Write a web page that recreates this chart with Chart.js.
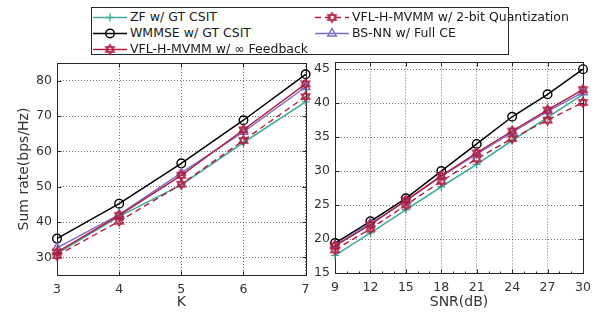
<!DOCTYPE html>
<html>
<head>
<meta charset="utf-8">
<script src="https://cdn.jsdelivr.net/npm/chart.js@4.4.1/dist/chart.umd.min.js"></script>
<style>
  html, body { margin:0; padding:0; background:#fff; }
  body { width:596px; height:314px; position:relative; overflow:hidden; font-family:'DejaVu Sans', sans-serif; }
  canvas { position:absolute; }
  #legend { position:absolute; left:91px; top:7px; width:418px; height:48px; box-sizing:border-box; border:1px solid #262626; background:#fff; }
  .lt { position:absolute; font-size:12.5px; color:#1a1a1a; white-space:nowrap; line-height:16px; }
</style>
</head>
<body>
<canvas id="cK" width="312" height="258" style="left:0;top:56px"></canvas>
<canvas id="cS" width="286" height="258" style="left:310px;top:56px"></canvas>
<div id="legend"></div>
<script>
// ---------- data ----------
const seriesNames = ['ZF w/ GT CSIT', 'VFL-H-MVMM w/ 2-bit Quantization', 'WMMSE w/ GT CSIT', 'BS-NN w/ Full CE', 'VFL-H-MVMM w/ \u221E Feedback'];

const kValues = [3, 4, 5, 6, 7];
const zfK     = [31.1, 41.6, 50.5, 62.5, 74.0];
const vfl2K   = [30.5, 40.2, 50.7, 63.1, 75.5];
const wmmseK  = [35.3, 45.2, 56.6, 68.8, 81.8];
const bsnnK   = [32.7, 42.1, 53.9, 65.5, 78.2];
const vflK    = [31.5, 41.9, 53.2, 66.1, 79.1];
const kYTicks = [30, 40, 50, 60, 70, 80];

const snrValues = [9, 12, 15, 18, 21, 24, 27, 30];
const zfS     = [17.6, 20.9, 24.3, 27.7, 31.0, 34.5, 37.9, 41.3];
const vfl2S   = [18.4, 21.5, 25.0, 28.5, 31.8, 34.8, 37.5, 40.1];
const wmmseS  = [19.4, 22.6, 26.0, 30.0, 34.0, 38.0, 41.3, 45.0];
const bsnnS   = [19.1, 22.3, 25.6, 29.2, 32.5, 35.7, 38.8, 41.6];
const vflS    = [19.0, 22.1, 25.7, 29.3, 32.7, 35.9, 39.0, 42.0];
const sYTicks = [15, 20, 25, 30, 35, 40, 45];

// ---------- styles ----------
const TEAL = '#44aa99', BLACK = '#000000', RED = '#b01e40', PURPLE = '#7d6bc8';

function hexagram(color) {
  const c = document.createElement('canvas');
  c.width = 13; c.height = 13;
  const g = c.getContext('2d');
  g.strokeStyle = color; g.lineWidth = 1.3;
  const cx = 6.5, cy = 6.5, r = 5;
  for (let k = 0; k < 2; k++) {
    g.beginPath();
    for (let i = 0; i < 3; i++) {
      const a = -Math.PI / 2 + k * Math.PI + i * 2 * Math.PI / 3;
      const x = cx + r * Math.cos(a), y = cy + r * Math.sin(a);
      if (i === 0) g.moveTo(x, y); else g.lineTo(x, y);
    }
    g.closePath(); g.stroke();
  }
  return c;
}
const HEX = hexagram(RED);

const styles = [
  { color: TEAL,   pointStyle: 'cross',    radius: 4,   dash: [],     order: 4, bw: 1.6 },
  { color: RED,    pointStyle: HEX,        radius: 5,   dash: [6, 4], order: 3, bw: 1.4 },
  { color: BLACK,  pointStyle: 'circle',   radius: 4.3, dash: [],     order: 2, bw: 1.5 },
  { color: PURPLE, pointStyle: 'triangle', radius: 5,   dash: [],     order: 1, bw: 1.4 },
  { color: RED,    pointStyle: HEX,        radius: 5,   dash: [],     order: 0, bw: 1.4 },
];

function makeDatasets(xs, seriesList) {
  return seriesList.map((vals, i) => {
    const s = styles[i];
    return {
      label: seriesNames[i],
      data: xs.map((x, j) => ({ x: x, y: vals[j] })),
      borderColor: s.color,
      backgroundColor: 'rgba(0,0,0,0)',
      borderWidth: s.bw,
      borderDash: s.dash,
      pointStyle: s.pointStyle,
      pointRadius: s.radius,
      pointBorderWidth: 1.4,
      pointBorderColor: s.color,
      pointBackgroundColor: 'rgba(0,0,0,0)',
      tension: 0,
      order: s.order,
      clip: false
    };
  });
}

const framePlugin = {
  id: 'frame',
  beforeDatasetsDraw(chart, args, opts) {
    const { ctx, chartArea } = chart;
    const L = Math.round(chartArea.left) + 0.5, R = Math.round(chartArea.right) + 0.5;
    const T = Math.round(chartArea.top) + 0.5, B = Math.round(chartArea.bottom) + 0.5;
    const xs = chart.scales.x, ys = chart.scales.y;
    ctx.save();
    ctx.strokeStyle = '#262626';
    ctx.lineWidth = 1;
    ctx.beginPath();
    xs.ticks.forEach(t => {
      const p = Math.round(xs.getPixelForValue(t.value)) + 0.5;
      ctx.moveTo(p, B); ctx.lineTo(p, B - 4);
      ctx.moveTo(p, T); ctx.lineTo(p, T + 4);
    });
    ys.ticks.forEach(t => {
      const p = Math.round(ys.getPixelForValue(t.value)) + 0.5;
      ctx.moveTo(L, p); ctx.lineTo(L + 4, p);
      ctx.moveTo(R, p); ctx.lineTo(R - 4, p);
    });
    if (opts.minorStep) {
      for (let v = xs.min; v <= xs.max; v += opts.minorStep) {
        const p = Math.round(xs.getPixelForValue(v)) + 0.5;
        ctx.moveTo(p, B); ctx.lineTo(p, B - 2);
      }
    }
    ctx.stroke();
    ctx.strokeRect(L, T, R - L, B - T);
    ctx.restore();
  }
};

Chart.defaults.font.family = "'DejaVu Sans', sans-serif";
Chart.defaults.font.size = 12.5;
Chart.defaults.color = '#333333';

function makeChart(id, xs, seriesList, cfg) {
  return new Chart(document.getElementById(id), {
    type: 'line',
    data: { datasets: makeDatasets(xs, seriesList) },
    plugins: [framePlugin],
    options: {
      responsive: false,
      animation: false,
      events: [],
      layout: { padding: cfg.padding },
      plugins: { legend: { display: false }, tooltip: { enabled: false }, frame: { minorStep: cfg.minorStep } },
      scales: {
        x: {
          type: 'linear', min: cfg.xMin, max: cfg.xMax,
          afterBuildTicks: s => { s.ticks = xs.map(v => ({ value: v })); },
          afterFit: s => { s.height = cfg.xHeight; s.paddingLeft = 0; s.paddingRight = 0; },
          grid: { color: 'rgba(0,0,0,0.55)', lineWidth: 1, drawTicks: false },
          border: { display: false, dash: [1, 2] },
          ticks: { padding: 7, maxRotation: 0, autoSkip: false, color: '#333' },
          title: { display: true, text: cfg.xTitle, font: { size: 14 }, color: '#333', padding: { top: 0, bottom: 3 } }
        },
        y: {
          type: 'linear', min: cfg.yMin, max: cfg.yMax,
          afterBuildTicks: s => { s.ticks = cfg.yTicks.map(v => ({ value: v })); },
          afterFit: s => { s.width = cfg.yWidth; s.paddingTop = 0; s.paddingBottom = 0; },
          grid: { color: 'rgba(0,0,0,0.55)', lineWidth: 1, drawTicks: false },
          border: { display: false, dash: [1, 2] },
          ticks: { padding: 5, autoSkip: false, color: '#333' },
          title: cfg.yTitle ? { display: true, text: cfg.yTitle, font: { size: 14 }, color: '#333', padding: { top: 16, bottom: 0 } } : { display: false }
        }
      }
    }
  });
}

makeChart('cK', kValues, [zfK, vfl2K, wmmseK, bsnnK, vflK], {
  padding: { top: 7, right: 5, left: 0, bottom: 0 },
  xMin: 3, xMax: 7, yMin: 25, yMax: 85, yTicks: kYTicks,
  xHeight: 39, yWidth: 57, xTitle: 'K', yTitle: 'Sum rate(bps/Hz)'
});
makeChart('cS', snrValues, [zfS, vfl2S, wmmseS, bsnnS, vflS], {
  padding: { top: 6, right: 13, left: 0, bottom: 0 },
  xMin: 9, xMax: 30, yMin: 15, yMax: 46, yTicks: sYTicks,
  xHeight: 41, yWidth: 25, xTitle: 'SNR(dB)', yTitle: null, minorStep: 1
});

// ---------- legend (HTML text + drawn samples) ----------
const legend = document.getElementById('legend');
const legendPos = [
  { x: 1,   y: 1 },   // ZF
  { x: 223, y: 1 },   // VFL 2-bit
  { x: 1,   y: 17 },  // WMMSE
  { x: 223, y: 17 },  // BS-NN
  { x: 1,   y: 33 },  // VFL inf
];
legendPos.forEach((p, i) => {
  const s = styles[i];
  const c = document.createElement('canvas');
  c.width = 36; c.height = 14;
  c.style.left = p.x + 'px'; c.style.top = (p.y + 1) + 'px';
  const g = c.getContext('2d');
  g.strokeStyle = s.color; g.lineWidth = s.bw;
  g.setLineDash(s.dash);
  g.beginPath(); g.moveTo(0, 7.5); g.lineTo(34, 7.5); g.stroke();
  g.setLineDash([]);
  g.lineWidth = 1.4;
  const cx = 17, cy = 7.5;
  if (s.pointStyle === HEX) {
    g.drawImage(HEX, cx - 6.5, cy - 6.5);
  } else if (s.pointStyle === 'circle') {
    g.beginPath(); g.arc(cx, cy, 4.3, 0, Math.PI * 2); g.stroke();
  } else if (s.pointStyle === 'triangle') {
    const r = 5;
    g.beginPath();
    g.moveTo(cx, cy - r);
    g.lineTo(cx + r * Math.sin(Math.PI * 2 / 3), cy - r * Math.cos(Math.PI * 2 / 3));
    g.lineTo(cx - r * Math.sin(Math.PI * 2 / 3), cy - r * Math.cos(Math.PI * 2 / 3));
    g.closePath(); g.stroke();
  } else if (s.pointStyle === 'cross') {
    g.beginPath(); g.moveTo(cx - 4, cy); g.lineTo(cx + 4, cy); g.moveTo(cx, cy - 4); g.lineTo(cx, cy + 4); g.stroke();
  }
  legend.appendChild(c);
  const t = document.createElement('div');
  t.className = 'lt';
  t.style.left = (p.x + 37) + 'px';
  t.style.top = p.y + 'px';
  t.textContent = seriesNames[i];
  legend.appendChild(t);
});
</script>
</body>
</html>
